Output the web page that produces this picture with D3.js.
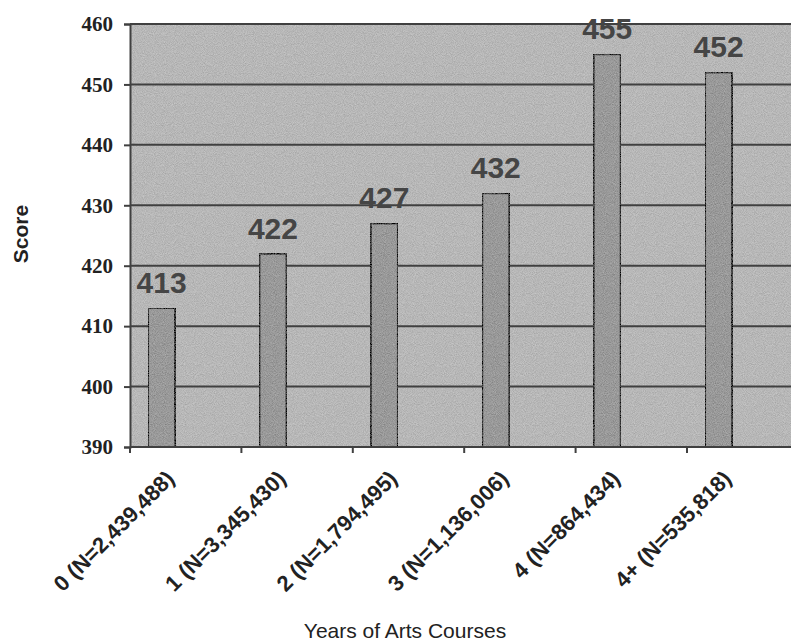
<!DOCTYPE html>
<html>
<head>
<meta charset="utf-8">
<script src="https://cdn.jsdelivr.net/npm/d3@7"></script>
<style>
  html, body { margin: 0; padding: 0; background: #ffffff; }
  svg { display: block; }
</style>
</head>
<body>
<div id="chart"></div>
<script>
// Average score by years of arts coursework
const categories = [
  "0 (N=2,439,488)",
  "1 (N=3,345,430)",
  "2 (N=1,794,495)",
  "3 (N=1,136,006)",
  "4 (N=864,434)",
  "4+ (N=535,818)"
];
const scores = [413, 422, 427, 432, 455, 452];
const yTicks = [390, 400, 410, 420, 430, 440, 450, 460];
const yDomain = [390, 460];

const width = 791, height = 642;
const plot = { left: 130, top: 24, bottom: 447, step: 111.4 };

const svg = d3.select("#chart").append("svg")
  .attr("width", width).attr("height", height);

// grainy texture for the plot surface and bars
const defs = svg.append("defs");
const grain = defs.append("filter").attr("id", "grain")
  .attr("x", 0).attr("y", 0).attr("width", 1).attr("height", 1);
grain.append("feTurbulence").attr("type", "fractalNoise")
  .attr("baseFrequency", 1.1).attr("numOctaves", 1).attr("seed", 7).attr("result", "noise");
grain.append("feColorMatrix").attr("in", "noise").attr("type", "matrix")
  .attr("values", "1 0 0 0 0  1 0 0 0 0  1 0 0 0 0  0 0 0 0 1")
  .attr("result", "gray");
grain.append("feComposite").attr("in", "SourceGraphic").attr("in2", "gray")
  .attr("operator", "arithmetic").attr("k1", 0).attr("k2", 1).attr("k3", 0.32).attr("k4", -0.16)
  .attr("result", "mix");
grain.append("feComposite").attr("in", "mix").attr("in2", "SourceGraphic").attr("operator", "in");

const x = d3.scaleBand()
  .domain(categories)
  .range([plot.left, plot.left + plot.step * categories.length])
  .padding(0);

const y = d3.scaleLinear().domain(yDomain).range([plot.bottom, plot.top]);

// plot background
svg.append("rect")
  .attr("x", plot.left).attr("y", plot.top)
  .attr("width", width - plot.left).attr("height", plot.bottom - plot.top)
  .attr("fill", "#b7b7b7")
  .attr("filter", "url(#grain)");

// horizontal gridlines
svg.append("g").selectAll("line")
  .data(yTicks.filter(t => t > yDomain[0]))
  .join("line")
  .attr("x1", plot.left).attr("x2", width)
  .attr("y1", d => y(d)).attr("y2", d => y(d))
  .attr("stroke", "#404040").attr("stroke-width", 2);

// bars (sit toward the left of each category slot)
const barOffset = 0.162, barWidth = 0.243;
svg.append("g").selectAll("rect")
  .data(scores)
  .join("rect")
  .attr("x", (d, i) => x(categories[i]) + x.step() * barOffset)
  .attr("y", d => y(d))
  .attr("width", x.step() * barWidth)
  .attr("height", d => y(yDomain[0]) - y(d))
  .attr("fill", "#999999")
  .attr("stroke", "#3a3a3a").attr("stroke-width", 2)
  .attr("filter", "url(#grain)");

// value labels
svg.append("g").selectAll("text")
  .data(scores)
  .join("text")
  .attr("x", (d, i) => x(categories[i]) + x.step() * (barOffset + barWidth / 2))
  .attr("y", d => y(d) - 15)
  .attr("text-anchor", "middle")
  .attr("font-family", "Liberation Sans, Arial, sans-serif")
  .attr("font-weight", "bold")
  .attr("font-size", 30)
  .attr("fill", "#454545")
  .text(d => d);

// y axis
const yAxis = svg.append("g")
  .attr("transform", `translate(${plot.left},0)`)
  .call(d3.axisLeft(y).tickValues(yTicks).tickSize(6).tickPadding(11));
yAxis.select(".domain").attr("stroke", "#404040").attr("stroke-width", 2);
yAxis.selectAll(".tick line").attr("stroke", "#404040").attr("stroke-width", 2);
yAxis.selectAll(".tick text")
  .attr("font-family", "Liberation Serif, 'Times New Roman', serif")
  .attr("font-weight", "bold")
  .attr("font-size", 21)
  .attr("fill", "#222");

// x axis: baseline with ticks at category boundaries
const xg = svg.append("g");
xg.append("line")
  .attr("x1", plot.left).attr("x2", width)
  .attr("y1", plot.bottom).attr("y2", plot.bottom)
  .attr("stroke", "#404040").attr("stroke-width", 2);
xg.selectAll("line.tick")
  .data(categories)
  .join("line").attr("class", "tick")
  .attr("x1", d => x(d)).attr("x2", d => x(d))
  .attr("y1", plot.bottom).attr("y2", plot.bottom + 6)
  .attr("stroke", "#404040").attr("stroke-width", 2);

// rotated category labels
xg.selectAll("text")
  .data(categories)
  .join("text")
  .attr("transform", d => `translate(${x(d) + x.bandwidth() / 2 - 10},${plot.bottom + 33}) rotate(-45)`)
  .attr("text-anchor", "end")
  .attr("font-family", "Liberation Sans, Arial, sans-serif")
  .attr("font-weight", "bold")
  .attr("font-size", 22)
  .attr("fill", "#222")
  .text(d => d);

// axis titles
svg.append("text")
  .attr("transform", `translate(28,234) rotate(-90)`)
  .attr("text-anchor", "middle")
  .attr("font-family", "Liberation Sans, Arial, sans-serif")
  .attr("font-weight", "bold")
  .attr("font-size", 21)
  .attr("fill", "#222")
  .text("Score");

svg.append("text")
  .attr("x", 405).attr("y", 638)
  .attr("text-anchor", "middle")
  .attr("font-family", "Liberation Sans, Arial, sans-serif")
  .attr("font-size", 21)
  .attr("fill", "#222")
  .text("Years of Arts Courses");
</script>
</body>
</html>
